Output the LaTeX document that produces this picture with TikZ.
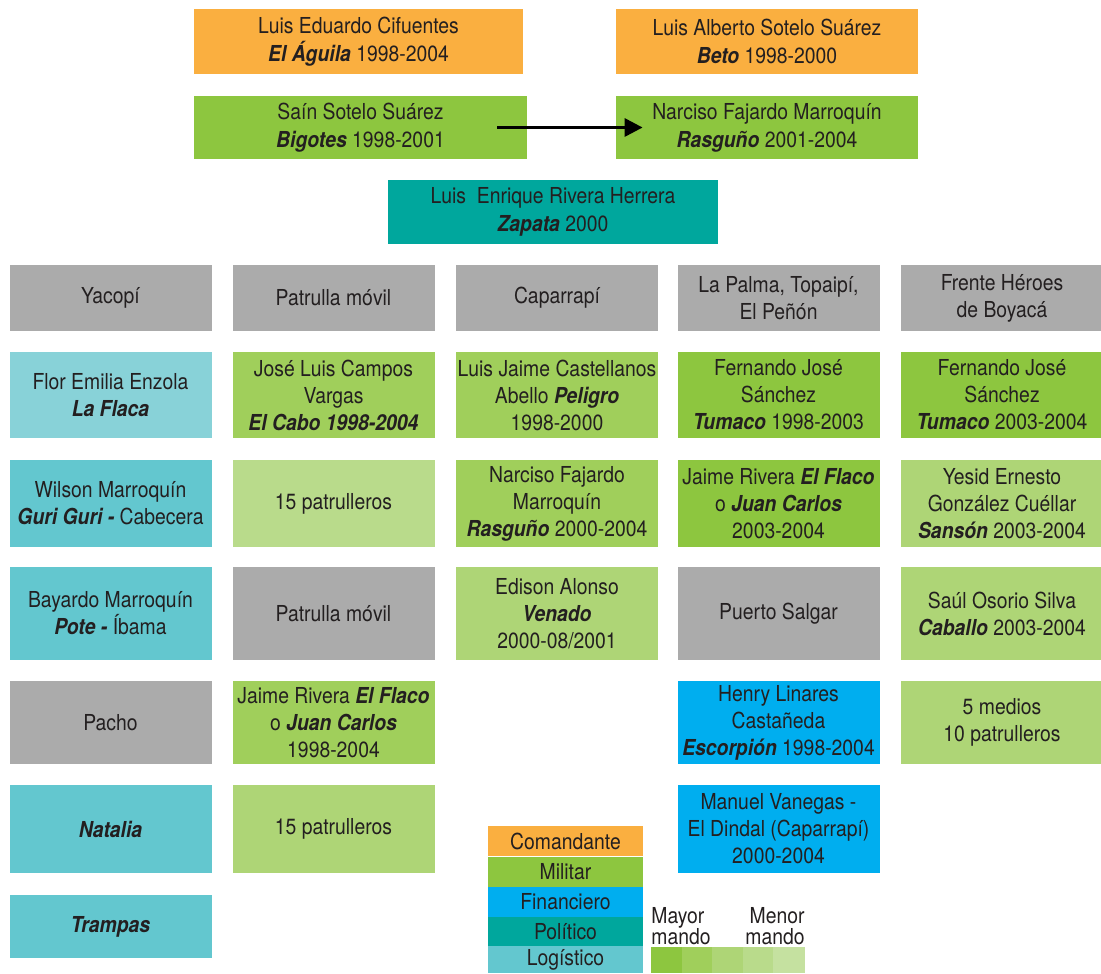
\documentclass[tikz,border=0pt]{standalone}
\usepackage{fontspec}
\setmainfont{TeX Gyre Heros}[FakeStretch=0.88]
\usepackage{tikz}
\usetikzlibrary{arrows.meta}

\definecolor{comand}{HTML}{FAAF40}
\definecolor{militar}{HTML}{8DC63F}
\definecolor{milB}{HTML}{A0CF5B}
\definecolor{milC}{HTML}{AED576}
\definecolor{milD}{HTML}{B9DB8B}
\definecolor{milE}{HTML}{C5E1A0}
\definecolor{finan}{HTML}{00AEEF}
\definecolor{polit}{HTML}{00A79D}
\definecolor{logis}{HTML}{63C7CF}
\definecolor{logisB}{HTML}{88D2D8}
\definecolor{zona}{HTML}{ABABAB}
\definecolor{letra}{HTML}{231F20}

\newcommand{\apodo}[1]{\textbf{\textit{#1}}}

\begin{document}
\begin{tikzpicture}[x=0.5pt,y=-0.5pt,
  cell/.style={rectangle,inner sep=0pt,align=center,text=letra,
    font=\fontsize{11}{13.5}\selectfont,minimum width=101pt},
  legbox/.style={rectangle,inner sep=0pt,align=center,text=letra,
    font=\fontsize{11}{13.5}\selectfont,minimum width=77.5pt,minimum height=15pt},
  arrow/.style={-{Triangle[length=9pt,width=9pt]},line width=1.6pt,black}]
\useasboundingbox (0,0) rectangle (1101,973);

% mando central
\node[cell,fill=comand,minimum width=164.5pt,minimum height=32.5pt,font=\fontsize{11}{14}\selectfont] (aguila) at (358.5,41.5) {Luis Eduardo Cifuentes\\\apodo{El Águila} 1998-2004};
\node[cell,fill=comand,minimum width=151pt,minimum height=32.5pt,font=\fontsize{11}{14}\selectfont] (beto) at (767,41.5) {Luis Alberto Sotelo Suárez\\\apodo{Beto} 1998-2000};
\node[cell,fill=militar,minimum width=166.5pt,minimum height=31.5pt,font=\fontsize{11}{14}\selectfont] (bigotes) at (360.5,127.5) {Saín Sotelo Suárez\\\apodo{Bigotes} 1998-2001};
\node[cell,fill=militar,minimum width=151pt,minimum height=31.5pt,font=\fontsize{11}{14}\selectfont] (rasguno) at (767,127.5) {Narciso Fajardo Marroquín\\\apodo{Rasguño} 2001-2004};
\node[cell,fill=polit,minimum width=165pt,minimum height=32pt,font=\fontsize{11}{14}\selectfont] (zapata) at (553,212) {Luis\ \ Enrique Rivera Herrera\\\apodo{Zapata} 2000};
\draw[arrow,shorten <=-15pt,shorten >=-13.5pt] (bigotes.east) -- (rasguno.west);

% fila 1: zonas
\node[cell,fill=zona,minimum height=33pt] (yacopi) at (110.5,298) {Yacopí};
\node[cell,fill=zona,minimum height=33pt] (patrullaA) at (333.5,298) {Patrulla móvil};
\node[cell,fill=zona,minimum height=33pt] (caparrapi) at (557,298) {Caparrapí};
\node[cell,fill=zona,minimum height=33pt] (lapalma) at (778.5,298) {La Palma, Topaipí,\\El Peñón};
\node[cell,fill=zona,minimum height=33pt] (frente) at (1002,298) {Frente Héroes\\de Boyacá};

% fila 2
\node[cell,fill=logisB,minimum height=43pt] (flaca) at (110.5,395) {Flor Emilia Enzola\\\apodo{La Flaca}};
\node[cell,fill=milB,minimum height=43pt] (cabo) at (333.5,395) {José Luis Campos\\Vargas\\\apodo{El Cabo 1998-2004}};
\node[cell,fill=milB,minimum height=43pt] (peligro) at (557,395) {Luis Jaime Castellanos\\Abello \apodo{Peligro}\\1998-2000};
\node[cell,fill=militar,minimum height=43pt] (tumacoA) at (778.5,395) {Fernando José\\Sánchez\\\apodo{Tumaco} 1998-2003};
\node[cell,fill=militar,minimum height=43pt] (tumacoB) at (1002,395) {Fernando José\\Sánchez\\\apodo{Tumaco} 2003-2004};

% fila 3
\node[cell,fill=logis,minimum height=43.5pt] (guri) at (110.5,503.5) {Wilson Marroquín\\\apodo{Guri Guri -} Cabecera};
\node[cell,fill=milD,minimum height=43.5pt] (patrullerosA) at (333.5,503.5) {15 patrulleros};
\node[cell,fill=milB,minimum height=43.5pt] (rasgunoB) at (557,503.5) {Narciso Fajardo\\Marroquín\\\apodo{Rasguño} 2000-2004};
\node[cell,fill=militar,minimum height=43.5pt] (flacoA) at (778.5,503.5) {Jaime Rivera \apodo{El Flaco}\\o \apodo{Juan Carlos}\\2003-2004};
\node[cell,fill=milC,minimum height=43.5pt] (sanson) at (1002,503.5) {Yesid Ernesto\\González Cuéllar\\\apodo{Sansón} 2003-2004};

% fila 4
\node[cell,fill=logis,minimum height=46.5pt] (pote) at (110.5,613.5) {Bayardo Marroquín\\\apodo{Pote -} Íbama};
\node[cell,fill=zona,minimum height=46.5pt] (patrullaB) at (333.5,613.5) {Patrulla móvil};
\node[cell,fill=milC,minimum height=46.5pt] (venado) at (557,613.5) {Edison Alonso\\\apodo{Venado}\\2000-08/2001};
\node[cell,fill=zona,minimum height=46.5pt] (salgar) at (778.5,613.5) {Puerto Salgar};
\node[cell,fill=milC,minimum height=46.5pt] (caballo) at (1002,613.5) {Saúl Osorio Silva\\\apodo{Caballo} 2003-2004};

% fila 5
\node[cell,fill=zona,minimum height=41.5pt] (pacho) at (110.5,722.5) {Pacho};
\node[cell,fill=milB,minimum height=41.5pt] (flacoB) at (333.5,722.5) {Jaime Rivera \apodo{El Flaco}\\o \apodo{Juan Carlos}\\1998-2004};
\node[cell,fill=finan,minimum height=41.5pt] (escorpion) at (778.5,722.5) {Henry Linares\\Castañeda\\\apodo{Escorpión} 1998-2004};
\node[cell,fill=milC,minimum height=41.5pt] (medios) at (1002,722.5) {5 medios\\10 patrulleros};

% fila 6 y 7
\node[cell,fill=logis,minimum height=44pt] (natalia) at (110.5,829) {\apodo{Natalia}};
\node[cell,fill=milC,minimum height=44pt] (patrullerosB) at (333.5,829) {15 patrulleros};
\node[cell,fill=finan,minimum height=44pt] (vanegas) at (778.5,829) {Manuel Vanegas -\\El Dindal (Caparrapí)\\2000-2004};
\node[cell,fill=logis,minimum height=31.5pt] (trampas) at (110.5,926.5) {\apodo{Trampas}};

% leyenda
\node[legbox,fill=comand] (lcom) at (565.5,841) {Comandante};
\node[legbox,fill=militar] (lmil) at (565.5,871.5) {Militar};
\node[legbox,fill=finan] (lfin) at (565.5,902) {Financiero};
\node[legbox,fill=polit] (lpol) at (565.5,931.5) {Político};
\node[legbox,fill=logis,minimum height=13.5pt] (llog) at (565.5,959.5) {Logístico};

\fill[militar] (651,947) rectangle (682,973);
\fill[milB] (682,947) rectangle (712,973);
\fill[milC] (712,947) rectangle (743,973);
\fill[milD] (743,947) rectangle (773,973);
\fill[milE] (773,947) rectangle (805,973);
\node[inner sep=0pt,align=left,anchor=south west,text=letra,font=\fontsize{11}{10.5}\selectfont] (mayor) at (651,945) {Mayor\\mando};
\node[inner sep=0pt,align=right,anchor=south east,text=letra,font=\fontsize{11}{10.5}\selectfont] (menor) at (805,945) {Menor\\mando};

\end{tikzpicture}
\end{document}
